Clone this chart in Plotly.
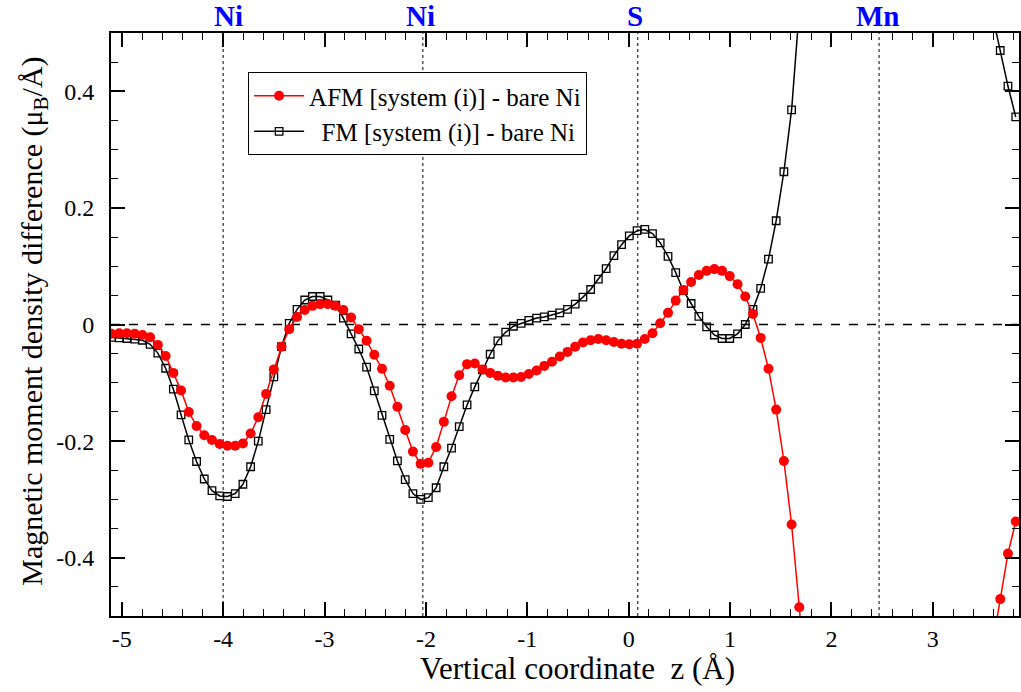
import plotly.graph_objects as go

# Vertical coordinate z (Å) of each sample
z = [-5.101, -5.025, -4.949, -4.872, -4.796, -4.720, -4.644, -4.567, -4.491, -4.415,
     -4.339, -4.262, -4.186, -4.110, -4.034, -3.958, -3.881, -3.805, -3.729, -3.653,
     -3.576, -3.500, -3.424, -3.348, -3.271, -3.195, -3.119, -3.043, -2.967, -2.890,
     -2.814, -2.738, -2.662, -2.585, -2.509, -2.433, -2.357, -2.281, -2.204, -2.128,
     -2.052, -1.976, -1.899, -1.823, -1.747, -1.671, -1.594, -1.518, -1.442, -1.366,
     -1.290, -1.213, -1.137, -1.061, -0.985, -0.908, -0.832, -0.756, -0.680, -0.603,
     -0.527, -0.451, -0.375, -0.299, -0.222, -0.146, -0.070, 0.006, 0.083, 0.159,
     0.235, 0.311, 0.388, 0.464, 0.540, 0.616, 0.692, 0.769, 0.845, 0.921,
     0.997, 1.074, 1.150, 1.226, 1.302, 1.379, 1.455, 1.531, 1.607, 1.683,
     1.760, 3.589, 3.665, 3.741, 3.818]

afm = [-0.016, -0.015, -0.015, -0.016, -0.018, -0.022, -0.035, -0.054, -0.083, -0.113,
       -0.150, -0.174, -0.190, -0.198, -0.205, -0.208, -0.208, -0.204, -0.187, -0.159,
       -0.119, -0.077, -0.038, -0.008, 0.013, 0.025, 0.032, 0.035, 0.035, 0.032,
       0.025, 0.012, -0.008, -0.028, -0.052, -0.076, -0.105, -0.141, -0.181, -0.218,
       -0.239, -0.237, -0.210, -0.167, -0.123, -0.087, -0.068, -0.067, -0.077, -0.083,
       -0.088, -0.091, -0.091, -0.090, -0.085, -0.079, -0.071, -0.064, -0.055, -0.047,
       -0.038, -0.031, -0.027, -0.025, -0.027, -0.030, -0.033, -0.034, -0.033, -0.025,
       -0.015, 0.002, 0.020, 0.041, 0.059, 0.073, 0.085, 0.092, 0.095, 0.092,
       0.083, 0.069, 0.048, 0.018, -0.023, -0.076, -0.146, -0.234, -0.343, -0.485,
       -0.650, -0.550, -0.471, -0.393, -0.338]

fm = [-0.022, -0.023, -0.024, -0.025, -0.027, -0.034, -0.049, -0.075, -0.111, -0.155,
      -0.198, -0.235, -0.265, -0.285, -0.294, -0.295, -0.290, -0.274, -0.244, -0.200,
      -0.146, -0.090, -0.038, 0.002, 0.026, 0.042, 0.048, 0.048, 0.042, 0.033,
      0.011, -0.016, -0.042, -0.073, -0.114, -0.156, -0.197, -0.234, -0.266, -0.290,
      -0.300, -0.297, -0.280, -0.244, -0.212, -0.175, -0.138, -0.107, -0.078, -0.051,
      -0.028, -0.013, -0.003, 0.002, 0.007, 0.011, 0.013, 0.016, 0.020, 0.026,
      0.035, 0.047, 0.060, 0.078, 0.096, 0.118, 0.137, 0.152, 0.161, 0.163,
      0.156, 0.140, 0.117, 0.089, 0.058, 0.036, 0.014, -0.004, -0.018, -0.024,
      -0.024, -0.016, 0.000, 0.026, 0.062, 0.112, 0.178, 0.262, 0.368, 0.540,
      None, 0.530, 0.470, 0.409, 0.356]

# Atomic layer positions and labels
atom_z = [-4.0, -2.03, 0.09, 2.47]
atom_label_z = [-3.95, -2.05, 0.06, 2.46]
atom_labels = ["Ni", "Ni", "S", "Mn"]

x_tickvals = [-5, -4, -3, -2, -1, 0, 1, 2, 3]
x_ticktext = ["-5", "-4", "-3", "-2", "-1", "0", "1", "2", "3"]
y_tickvals = [-0.4, -0.2, 0, 0.2, 0.4]
y_ticktext = ["-0.4", "-0.2", "0", "0.2", "0.4"]

x_title = "Vertical coordinate\u00a0 z (Å)"
y_title = "Magnetic moment density difference (μ<sub>B</sub>/Å)"

FONT = "'Liberation Serif', 'Times New Roman', serif"

fig = go.Figure()

fig.add_trace(go.Scatter(
    x=z, y=fm, mode="lines+markers",
    name="\u00a0 FM [system (i)] - bare Ni",
    line=dict(color="black", width=1.5),
    marker=dict(symbol="square-open", size=7.5, color="black", line=dict(width=1.3)),
    legendrank=2,
))
fig.add_trace(go.Scatter(
    x=z, y=afm, mode="lines+markers",
    name="AFM [system (i)] - bare Ni",
    line=dict(color="#ff0000", width=1.5),
    marker=dict(symbol="circle", size=10, color="#ff0000"),
    legendrank=1,
))

# zero line
fig.add_hline(y=0, line=dict(color="black", width=1.3, dash="dash"), layer="below")
# atom layer lines
for az in atom_z:
    fig.add_vline(x=az, line=dict(color="black", width=1, dash="dot"), layer="below")
for lz, lab in zip(atom_label_z, atom_labels):
    fig.add_annotation(x=lz, y=1, xref="x", yref="paper", yanchor="bottom", yshift=-1,
                       text="<b>%s</b>" % lab, showarrow=False,
                       font=dict(family=FONT, size=29, color="#0000ff"))

# axis titles
fig.add_annotation(x=0.514, y=-0.0906, xref="paper", yref="paper", xanchor="center",
                   yanchor="middle", text=x_title, showarrow=False,
                   font=dict(family=FONT, size=31, color="black"))
fig.add_annotation(x=-0.0857, y=0.505, xref="paper", yref="paper", xanchor="center",
                   yanchor="middle", text=y_title, showarrow=False, textangle=-90,
                   font=dict(family=FONT, size=30, color="black"))

axis_common = dict(
    showgrid=False, zeroline=False, showline=True, linecolor="black", linewidth=2,
    mirror="allticks", ticks="inside", tickcolor="black", tickwidth=1.5,
    tickfont=dict(family=FONT, size=24, color="black"),
)

fig.update_xaxes(
    range=[-5.106, 3.85], tickmode="array", tickvals=x_tickvals, ticktext=x_ticktext,
    ticklen=14, ticklabelstandoff=0,
    minor=dict(dtick=0.2, tick0=0, ticks="inside", ticklen=7, tickwidth=1.3, tickcolor="black"),
    **axis_common,
)
fig.update_yaxes(
    range=[-0.5, 0.5], tickmode="array", tickvals=y_tickvals, ticktext=y_ticktext,
    ticklen=14, ticklabelstandoff=10,
    minor=dict(dtick=0.05, tick0=0, ticks="inside", ticklen=7, tickwidth=1.3, tickcolor="black"),
    **axis_common,
)

fig.update_layout(
    width=1021, height=692,
    margin=dict(l=111, r=0, t=33, b=76),
    plot_bgcolor="white", paper_bgcolor="white",
    showlegend=True,
    legend=dict(x=0.151, y=0.933, xanchor="left", yanchor="top",
                bgcolor="white", bordercolor="black", borderwidth=1,
                font=dict(family=FONT, size=25, color="black"),
                itemwidth=50, tracegroupgap=0),
    font=dict(family=FONT),
)

fig.write_html(
    "out.html",
    config={"displayModeBar": False},
    post_script="document.body.style.margin='0';"
                "document.documentElement.style.overflow='hidden';",
)
